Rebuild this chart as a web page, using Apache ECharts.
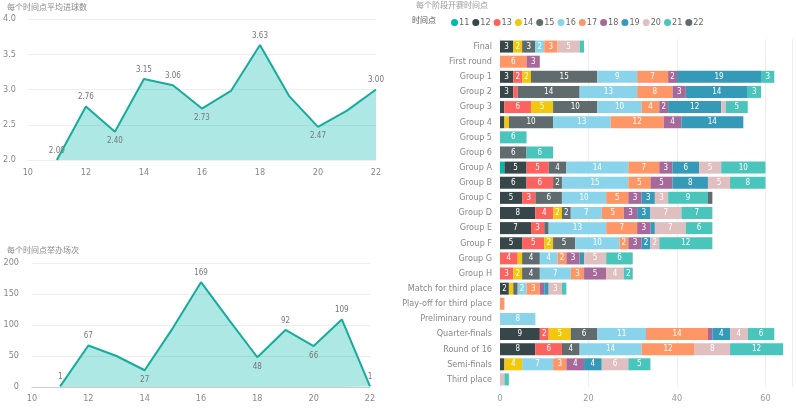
<!DOCTYPE html>
<html>
<head>
<meta charset="utf-8">
<script src="https://cdn.jsdelivr.net/npm/echarts@6/dist/echarts.min.js"></script>
<style>
html,body{margin:0;padding:0;background:#fff}
#main{width:796px;height:408px}
</style>
</head>
<body>
<div id="main"></div>
<script>
// 左边两张折线图
let hours=[11,12,13,14,15,16,17,18,19,20,21,22]
let avgGoals=[2.00,2.76,2.40,3.15,3.06,2.73,2.98,3.63,2.91,2.47,2.70,3.00]
let matchCount=[1,67,50,27,95,169,108,48,92,66,109,1]

// 右边堆叠条形图, 每个时间点一组
let stages=['Final','First round','Group 1','Group 2','Group 3','Group 4','Group 5','Group 6','Group A','Group B','Group C','Group D','Group E','Group F','Group G','Group H','Match for third place','Play-off for third place','Preliminary round','Quarter-finals','Round of 16','Semi-finals','Third place']
let t11=[0,0,0,0,0,0,0,0,1,0,0,0,0,0,0,0,0,0,0,0,0,0,0]
let t12=[3,0,3,3,1,1,0,0,5,6,5,8,7,5,0,0,2,0,0,9,8,1,0]
let t13=[0,0,2,1,6,0,0,0,5,6,3,4,3,5,4,3,0,0,0,2,6,0,0]
let t14=[2,0,2,0,5,1,0,0,0,0,0,2,0,2,1,2,1,0,0,5,0,4,0]
let t15=[3,0,15,14,10,10,0,6,4,2,6,2,1,5,4,4,1,0,0,6,4,0,0]
let t16=[2,0,9,13,10,13,0,0,14,15,10,7,13,10,4,7,2,0,8,11,14,7,0]
let t17=[3,6,7,8,4,12,0,0,7,5,5,5,7,2,2,3,3,1,0,14,12,3,0]
let t18=[0,3,2,3,2,4,0,0,3,5,3,3,3,3,3,5,1,0,0,1,0,4,0]
let t19=[0,0,19,14,12,14,0,0,6,8,3,3,1,2,1,0,1,0,0,4,0,4,0]
let t20=[5,0,0,0,1,0,0,0,5,5,3,7,7,2,5,4,3,0,0,4,8,6,1]
let t21=[1,0,3,3,5,0,6,6,10,8,9,7,6,12,6,2,1,0,0,6,12,5,1]
let t22=[0,0,0,0,0,0,0,0,0,0,1,0,0,0,0,0,0,0,0,0,0,0,0]
let hourSeries=[t11,t12,t13,t14,t15,t16,t17,t18,t19,t20,t21,t22]

// 数据标签位置, null 表示不显示
let goalLabelPos=['top','top','bottom','top','top','bottom',null,'top',null,'bottom',null,'top']
let countLabelPos=['top','top',null,'bottom',null,'top',null,'bottom','top','bottom','top','top']

let colors=['#01B8AA','#374649','#FD625E','#F2C80F','#5F6B6D','#8AD4EB','#FE9666','#A66999','#3599B8','#DFBFBF','#4AC5BB','#5F6B6D']
let font="'DejaVu Sans Condensed','Liberation Sans Narrow','Noto Sans CJK SC',sans-serif"

function lineData(vals,pos,fmt){
    let arr=[]
    for(let i=0;i<hours.length;i++){
        let item={value:[hours[i],vals[i]]}
        if(pos[i]){
            item.label={show:true,position:pos[i],formatter:fmt(vals[i])}
        }
        arr.push(item)
    }
    return arr
}

let lineStyle={color:'#17ab9c',width:2}
let areaStyle={color:'rgba(1,184,170,0.45)'}
let dataLabel={show:false,color:'#777',fontSize:8,fontFamily:font,distance:5}

var myChart=echarts.init(document.getElementById('main'))

let series=[{
    type:'line',
    xAxisIndex:0,yAxisIndex:0,
    data:lineData(avgGoals,goalLabelPos,v=>v.toFixed(2)),
    symbol:'circle',symbolSize:1,showSymbol:true,
    itemStyle:{color:'rgba(0,0,0,0)'},
    lineStyle:lineStyle,
    areaStyle:areaStyle,
    label:dataLabel
},{
    type:'line',
    xAxisIndex:1,yAxisIndex:1,
    data:lineData(matchCount,countLabelPos,v=>String(v)),
    symbol:'circle',symbolSize:1,showSymbol:true,
    itemStyle:{color:'rgba(0,0,0,0)'},
    lineStyle:lineStyle,
    areaStyle:areaStyle,
    label:dataLabel
}]

for(let i=0;i<hours.length;i++){
    series.push({
        name:String(hours[i]),
        type:'bar',
        stack:'all',
        xAxisIndex:2,yAxisIndex:2,
        data:hourSeries[i],
        barWidth:12,
        itemStyle:{color:colors[i]},
        label:{
            show:true,
            color:'#fff',
            fontSize:8,
            fontFamily:font,
            formatter:p=>p.value>=2?p.value:''
        }
    })
}

var option={
    backgroundColor:'#fff',
    animation:false,
    textStyle:{fontFamily:font},
    title:[
        {text:'每个时间点平均进球数',left:2,top:-1,textStyle:{fontSize:8,color:'#888',fontWeight:'normal',fontFamily:font}},
        {text:'每个时间点举办场次',left:2,top:242,textStyle:{fontSize:8,color:'#888',fontWeight:'normal',fontFamily:font}},
        {text:'每个阶段开赛时间点',left:411,top:-3,textStyle:{fontSize:8,color:'#999',fontWeight:'normal',fontFamily:font}}
    ],
    graphic:[{
        type:'text',left:412,top:17,
        style:{text:'时间点',fill:'#555',fontSize:8,fontFamily:font}
    }],
    legend:{
        left:446,top:13,
        icon:'circle',
        itemWidth:7,itemHeight:7,
        itemGap:3,
        textStyle:{fontSize:9,color:'#666',fontFamily:font,padding:[0,0,0,-4]},
        data:hours.map(String)
    },
    grid:[
        {left:25,top:19,width:351,height:141},
        {left:32,top:263,width:338,height:124},
        {left:500,top:39,width:292,height:348}
    ],
    xAxis:[{
        gridIndex:0,type:'value',min:10,max:22,interval:2,
        axisLine:{show:false},axisTick:{show:false},splitLine:{show:false},
        axisLabel:{color:'#888',fontSize:9,margin:8}
    },{
        gridIndex:1,type:'value',min:10,max:22,interval:2,
        axisLine:{show:true,lineStyle:{color:'#ccc'}},axisTick:{show:false},splitLine:{show:false},
        axisLabel:{color:'#888',fontSize:9,margin:7}
    },{
        gridIndex:2,type:'value',min:0,max:66,interval:20,
        axisLine:{show:false},axisTick:{show:false},
        splitLine:{lineStyle:{color:'#eee'}},
        axisLabel:{color:'#999',fontSize:9,margin:7,showMaxLabel:false}
    }],
    yAxis:[{
        gridIndex:0,type:'value',min:2,max:4,interval:0.5,
        axisLine:{show:false},axisTick:{show:false},
        splitLine:{lineStyle:{color:'#eee'}},
        axisLabel:{color:'#888',fontSize:9,margin:12,formatter:v=>v.toFixed(1)}
    },{
        gridIndex:1,type:'value',min:0,max:200,interval:50,
        axisLine:{show:false},axisTick:{show:false},
        splitLine:{lineStyle:{color:'#eee'}},
        axisLabel:{color:'#888',fontSize:9,margin:13}
    },{
        gridIndex:2,type:'category',data:stages,inverse:true,
        axisLine:{show:false},axisTick:{show:false},
        axisLabel:{color:'#888',fontSize:9,margin:8}
    }],
    series:series
}

myChart.setOption(option)
</script>
</body>
</html>
